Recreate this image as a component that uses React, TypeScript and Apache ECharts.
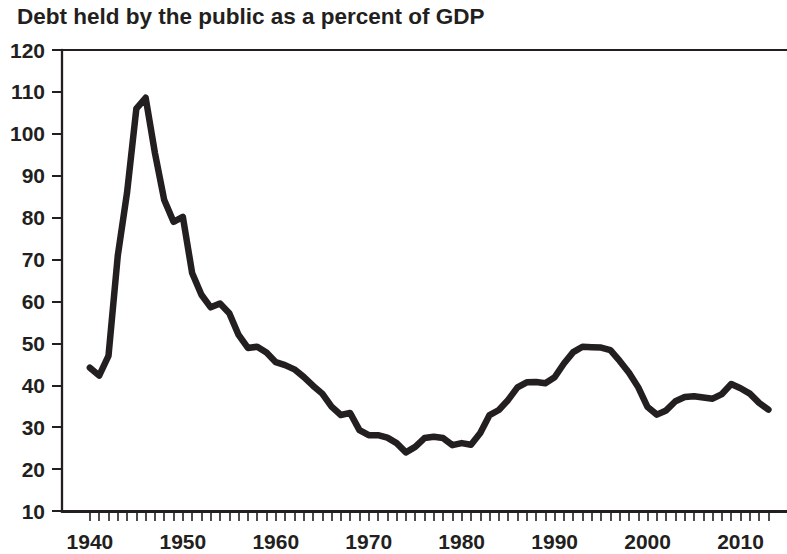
import React, { useEffect, useRef } from "react";
import * as echarts from "echarts";

const titleText = "Debt held by the public as a percent of GDP";

const years: number[] = [
  1940, 1941, 1942, 1943, 1944, 1945, 1946, 1947, 1948, 1949,
  1950, 1951, 1952, 1953, 1954, 1955, 1956, 1957, 1958, 1959,
  1960, 1961, 1962, 1963, 1964, 1965, 1966, 1967, 1968, 1969,
  1970, 1971, 1972, 1973, 1974, 1975, 1976, 1977, 1978, 1979,
  1980, 1981, 1982, 1983, 1984, 1985, 1986, 1987, 1988, 1989,
  1990, 1991, 1992, 1993, 1994, 1995, 1996, 1997, 1998, 1999,
  2000, 2001, 2002, 2003, 2004, 2005, 2006, 2007, 2008, 2009,
  2010, 2011, 2012, 2013,
];

const debtPct: number[] = [
  44.2, 42.3, 47.0, 70.9, 86.0, 106.0, 108.6, 95.4, 84.2, 79.0,
  80.2, 66.8, 61.6, 58.6, 59.5, 57.2, 52.0, 48.9, 49.2, 47.8,
  45.5, 44.8, 43.8, 42.0, 39.9, 38.0, 34.9, 32.9, 33.4, 29.3,
  28.1, 28.1, 27.5, 26.2, 24.0, 25.3, 27.4, 27.7, 27.4, 25.7,
  26.2, 25.8, 28.6, 32.9, 34.1, 36.5, 39.5, 40.7, 40.8, 40.5,
  41.9, 45.2, 47.9, 49.2, 49.1, 49.0, 48.4, 45.8, 43.0, 39.5,
  34.8, 33.0, 34.0, 36.2, 37.2, 37.4, 37.1, 36.8, 37.9, 40.3,
  39.3, 38.0, 35.8, 34.2,
];

const xLabelYears: number[] = [1940, 1950, 1960, 1970, 1980, 1990, 2000, 2010];

export default function App() {
  const ref = useRef<HTMLDivElement>(null);
  useEffect(() => {
    if (!ref.current) return;
    const chart = echarts.init(ref.current, null, { renderer: "svg" });
    const ink = "#231f20";
    const font = "'Liberation Sans', Arial, Helvetica, sans-serif";
    chart.setOption({
      animation: false,
      backgroundColor: "#ffffff",
      title: {
        text: titleText,
        left: 17,
        top: 5,
        padding: 0,
        textStyle: { fontFamily: font, fontWeight: "bold", fontSize: 22.5, color: ink },
      },
      grid: { left: 62, right: 0, top: 50, bottom: 43, containLabel: false },
      xAxis: [
        {
          type: "value",
          min: 1937,
          max: 2015,
          interval: 1,
          axisLine: { show: true, onZero: false, lineStyle: { color: ink, width: 3 } },
          axisTick: {
            show: true,
            inside: false,
            length: 10,
            customValues: years,
            lineStyle: { color: ink, width: 1.6 },
          },
          axisLabel: {
            show: true,
            customValues: xLabelYears,
            margin: 20,
            fontFamily: font,
            fontWeight: "bold",
            fontSize: 21,
            color: ink,
            formatter: (v: number) => String(v),
          },
          splitLine: { show: false },
        },
      ],
      yAxis: {
        type: "value",
        min: 10,
        max: 120,
        interval: 10,
        axisLine: { show: true, onZero: false, lineStyle: { color: ink, width: 2.3 } },
        axisTick: { show: true, length: 10, lineStyle: { color: ink, width: 2 } },
        axisLabel: {
          margin: 17,
          fontFamily: font,
          fontWeight: "bold",
          fontSize: 21,
          color: ink,
        },
        splitLine: { show: false },
      },
      graphic: [
        {
          type: "line",
          shape: { x1: 62, y1: 50, x2: 787, y2: 50 },
          style: { stroke: ink, lineWidth: 2 },
          silent: true,
        },
      ],
      series: [
        {
          type: "line",
          xAxisIndex: 0,
          data: years.map((y, i) => [y, debtPct[i]]),
          symbol: "none",
          lineStyle: { color: ink, width: 6.5, join: "round", cap: "round" },
        },
      ],
    });
    return () => chart.dispose();
  }, []);
  return (
    <div
      ref={ref}
      style={{ position: "absolute", left: 0, top: 0, width: 787, height: 554 }}
    />
  );
}
